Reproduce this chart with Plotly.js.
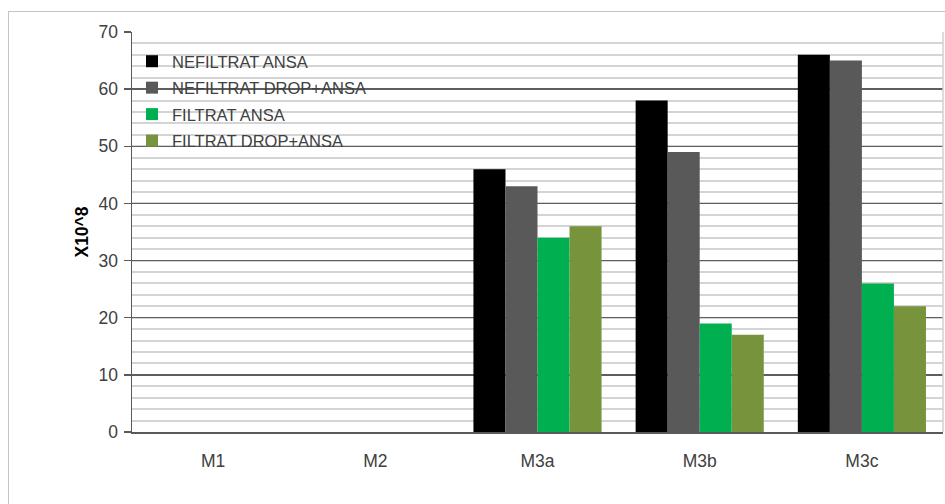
<!DOCTYPE html>
<html>
<head>
<meta charset="utf-8">
<script src="https://cdn.plot.ly/plotly-3.0.1.min.js"></script>
<style>
  html, body { margin: 0; padding: 0; background: #fff; }
  #wrap { position: relative; width: 945px; height: 504px; overflow: hidden; }
  #chart { position: absolute; left: 0; top: 0; width: 945px; height: 504px; }
  #frame { position: absolute; left: 8px; top: 11px; width: 960px; height: 520px;
           border: 1px solid #c4c4c4; pointer-events: none; }
</style>
</head>
<body>
<div id="wrap">
  <div id="chart"></div>
  <div id="frame"></div>
</div>
<script>
// Sample groups along the x axis
const categories = ['M1', 'M2', 'M3a', 'M3b', 'M3c'];

// Series names
const seriesNames = ['NEFILTRAT ANSA', 'NEFILTRAT DROP+ANSA', 'FILTRAT ANSA', 'FILTRAT DROP+ANSA'];

// Counts (x10^8) per group; M1 and M2 have no measurements
const nefiltratAnsa     = [null, null, 46, 58, 66];
const nefiltratDropAnsa = [null, null, 43, 49, 65];
const filtratAnsa       = [null, null, 34, 19, 26];
const filtratDropAnsa   = [null, null, 36, 17, 22];

const yTicks = [0, 10, 20, 30, 40, 50, 60, 70];

const seriesValues = [nefiltratAnsa, nefiltratDropAnsa, filtratAnsa, filtratDropAnsa];
const seriesColors = ['#000000', '#595959', '#00b050', '#77933c'];

const FONT = '"Liberation Sans", Arial, sans-serif';

const traces = seriesValues.map((vals, i) => ({
  type: 'bar',
  name: seriesNames[i],
  x: categories,
  y: vals,
  legendgroup: 'g' + i,
  marker: { color: seriesColors[i], line: { width: 0 } },
  hoverinfo: 'x+y+name'
}));

const layout = {
  width: 945,
  height: 504,
  margin: { l: 132, r: 2, t: 32, b: 72, pad: 0 },
  paper_bgcolor: '#ffffff',
  plot_bgcolor: '#ffffff',
  barmode: 'group',
  bargap: 0.21,
  bargroupgap: 0,
  font: { family: FONT, size: 16, color: '#404040' },
  showlegend: true,
  legend: {
    x: 0, y: 0.97, xanchor: 'left', yanchor: 'top',
    bgcolor: 'rgba(0,0,0,0)',
    borderwidth: 0,
    traceorder: 'grouped',
    tracegroupgap: 2,
    itemwidth: 30,
    font: { family: FONT, size: 16.5, color: '#404040' }
  },
  xaxis: {
    type: 'category',
    showgrid: false,
    showline: true,
    linecolor: '#595959',
    linewidth: 1.5,
    ticks: '',
    ticklabelstandoff: 12,
    tickfont: { family: FONT, size: 17.5, color: '#404040' },
    zeroline: false,
    fixedrange: true
  },
  yaxis: {
    range: [0, 70],
    tickvals: yTicks,
    ticktext: yTicks.map(String),
    showline: true,
    linecolor: '#595959',
    linewidth: 1.5,
    ticks: 'outside',
    ticklen: 7,
    tickwidth: 1.3,
    tickcolor: '#595959',
    ticklabelstandoff: 2,
    tickfont: { family: FONT, size: 17.5, color: '#404040' },
    showgrid: true,
    gridcolor: '#5e5e5e',
    gridwidth: 1.4,
    minor: { dtick: 2, tick0: 0, showgrid: true, gridcolor: '#d4d4d4', gridwidth: 2, ticks: '' },
    zeroline: false,
    title: { text: 'X10^8', font: { family: FONT, size: 17.5, color: '#000000', weight: 'bold' }, standoff: 5 },
    fixedrange: true
  },
  shapes: [
    { type: 'line', xref: 'paper', yref: 'paper', x0: 1, x1: 1, y0: 0, y1: 1,
      line: { color: '#d0d0d0', width: 1.5 } }
  ]
};

Plotly.newPlot('chart', traces, layout, { displayModeBar: false, staticPlot: true });
</script>
</body>
</html>
